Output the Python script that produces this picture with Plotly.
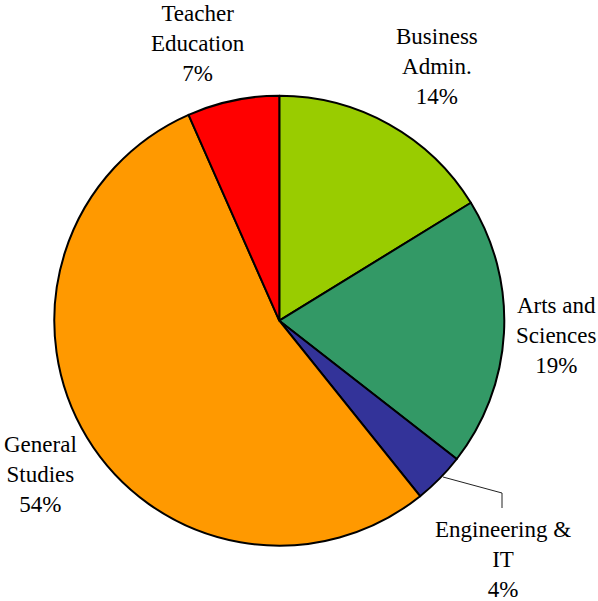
import plotly.graph_objects as go

W, H = 598, 601

categories = ["Business Admin.", "Arts and Sciences", "Engineering & IT", "General Studies", "Teacher Education"]
label_lines = ["Business<br>Admin.", "Arts and<br>Sciences", "Engineering &<br>IT", "General<br>Studies", "Teacher<br>Education"]
values = [16.2, 19.3, 3.7, 54.1, 6.6]
pct_labels = ["14%", "19%", "4%", "54%", "7%"]
colors = ["#99CC00", "#339966", "#333399", "#FF9900", "#FF0000"]

# label centres in pixels (layout only)
label_pos = [(437, 66), (556, 336), (503, 559), (40, 474), (198, 43)]

cx, cy, r = 279.3, 320.7, 225

fig = go.Figure(go.Pie(
    labels=categories,
    values=values,
    sort=False,
    direction="clockwise",
    rotation=0,
    marker=dict(colors=colors, line=dict(color="black", width=2)),
    textinfo="none",
    hoverinfo="label+percent",
    showlegend=False,
    domain=dict(x=[(cx - r) / W, (cx + r) / W], y=[1 - (cy + r) / H, 1 - (cy - r) / H]),
))

font = dict(family="Liberation Serif", size=23, color="black")
for txt, pct, (px, py) in zip(label_lines, pct_labels, label_pos):
    fig.add_annotation(
        x=px / W, y=1 - py / H, xref="paper", yref="paper",
        text=f"{txt}<br>{pct}", showarrow=False,
        xanchor="center", yanchor="middle", font=font, align="center",
    )

# leader line for Engineering & IT
pts = [(443, 477), (502, 493), (502, 508)]
path = "M " + " L ".join(f"{x / W},{1 - y / H}" for x, y in pts)
fig.add_shape(type="path", path=path, xref="paper", yref="paper",
              line=dict(color="#222222", width=1))

fig.update_layout(
    width=W, height=H,
    margin=dict(l=0, r=0, t=0, b=0, pad=0),
    paper_bgcolor="white", plot_bgcolor="white",
    font=dict(family="Liberation Serif"),
)

fig.write_html("out.html", config={"displayModeBar": False},
               post_script="document.body.style.margin='0';")
